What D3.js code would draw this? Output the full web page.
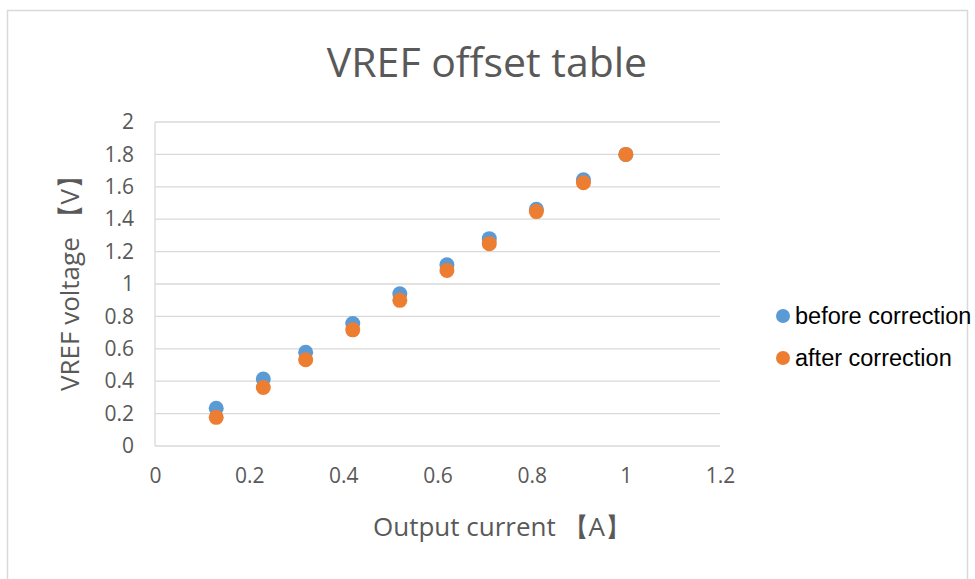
<!DOCTYPE html>
<html><head><meta charset="utf-8">
<script src="https://cdn.jsdelivr.net/npm/d3@7"></script>
<style>body{margin:0;background:#fff}svg{display:block}</style>
</head><body>
<script>
const outputCurrent = [0.13, 0.23, 0.32, 0.42, 0.52, 0.62, 0.71, 0.81, 0.91, 1.0];
const beforeCorrection = [0.233, 0.414, 0.579, 0.756, 0.94, 1.119, 1.28, 1.461, 1.643, 1.8];
const afterCorrection = [0.177, 0.361, 0.532, 0.717, 0.899, 1.084, 1.249, 1.447, 1.625, 1.8];
const seriesNames = ["before correction", "after correction"];
const seriesColors = ["#5b9bd5", "#ed7d31"];
const xTicks = [0, 0.2, 0.4, 0.6, 0.8, 1, 1.2];
const yTicks = [0, 0.2, 0.4, 0.6, 0.8, 1, 1.2, 1.4, 1.6, 1.8, 2];

const W = 975, H = 579;
const svg = d3.select("body").append("svg").attr("width", W).attr("height", H);
svg.append("rect").attr("x", 7.5).attr("y", 10.5).attr("width", 960).attr("height", 580)
  .attr("fill", "#fff").attr("stroke", "#d9d9d9").attr("stroke-width", 1.5);

const x = d3.scaleLinear().domain([0, 1.2]).range([155, 720]);
const y = d3.scaleLinear().domain([0, 2]).range([446, 122]);
const font = "'Open Sans', sans-serif";
const grey = "#595959";

// gridlines
svg.append("g").selectAll("line").data(yTicks).join("line")
  .attr("x1", x(0)).attr("x2", x(1.2)).attr("y1", d => y(d)).attr("y2", d => y(d))
  .attr("stroke", "#d9d9d9").attr("stroke-width", 1.3);
svg.append("line").attr("x1", x(0)).attr("x2", x(0)).attr("y1", y(0)).attr("y2", y(2))
  .attr("stroke", "#d9d9d9").attr("stroke-width", 1.3);

// axes labels via d3 axes
const yAxis = svg.append("g").attr("transform", `translate(${x(0)},0)`)
  .call(d3.axisLeft(y).tickValues(yTicks).tickFormat(d3.format("~g")).tickSize(0).tickPadding(21));
const xAxis = svg.append("g").attr("transform", `translate(0,${y(0)})`)
  .call(d3.axisBottom(x).tickValues(xTicks).tickFormat(d3.format("~g")).tickSize(0).tickPadding(22));
[xAxis, yAxis].forEach(a => {
  a.select(".domain").remove();
  a.selectAll("text").attr("fill", grey).style("font-family", font).style("font-size", "21px");
});

// points
const series = [beforeCorrection, afterCorrection];
series.forEach((vals, i) => {
  svg.append("g").selectAll("circle").data(vals).join("circle")
    .attr("cx", (d, j) => x(outputCurrent[j])).attr("cy", d => y(d)).attr("r", 7.5)
    .attr("fill", seriesColors[i]);
});

// title
svg.append("text").attr("x", 487).attr("y", 77).attr("text-anchor", "middle")
  .attr("fill", grey).style("font-family", font).style("font-size", "41px")
  .text("VREF offset table");
// axis titles
svg.append("text").attr("x", 502).attr("y", 536).attr("text-anchor", "middle")
  .attr("fill", grey).style("font-family", font).style("font-size", "26px")
  .text("Output current 【A】");
svg.append("text").attr("transform", "translate(79,277) rotate(-90)").attr("text-anchor", "middle")
  .attr("fill", grey).style("font-family", font).style("font-size", "26px")
  .text("VREF voltage 【V】");

// legend
const lg = svg.append("g");
seriesNames.forEach((n, i) => {
  lg.append("circle").attr("cx", 783).attr("cy", 316 + i * 42).attr("r", 7).attr("fill", seriesColors[i]);
  lg.append("text").attr("x", 795).attr("y", 316 + i * 42 + 8).attr("fill", "#000")
    .style("font-family", "'Liberation Sans', Arial, sans-serif").style("font-size", "23.5px").text(n);
});
</script>
</body></html>
